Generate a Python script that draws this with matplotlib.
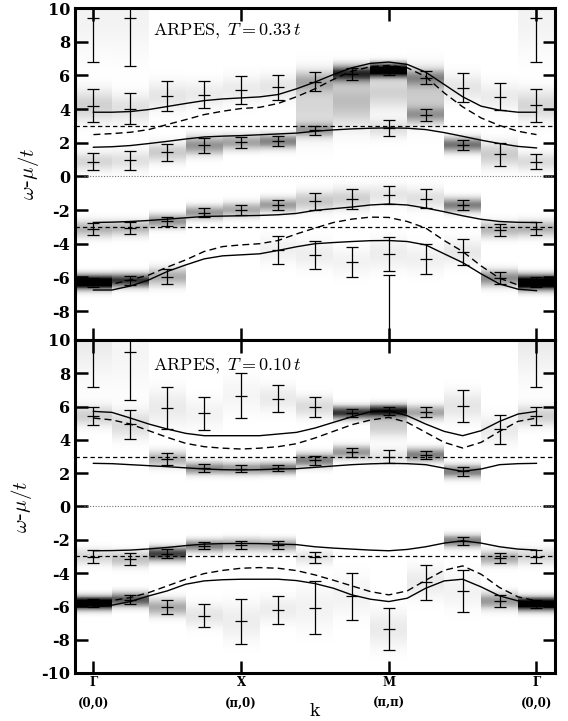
import numpy as np
import matplotlib
matplotlib.use('Agg')
import matplotlib.pyplot as plt

plt.rcParams['mathtext.fontset'] = 'cm'
plt.rcParams['axes.unicode_minus'] = False

# k path Gamma -> X -> M -> Gamma, 4 steps per segment
k_ticks = [0, 4, 8, 12]
k_labels = ['Γ\n(0,0)', 'X\n(π,0)', 'M\n(π,π)', 'Γ\n(0,0)']
k_line = np.arange(0, 12.01, 0.5)

# ---- T = 0.33t : ARPES peaks (k index, energy, half width, grey level)
top_bar_k = [0, 0, 0, 0, 0, 1, 1, 1, 1, 1, 2, 2, 2, 2, 3, 3, 3, 4, 4, 4,
             5, 5, 5, 5, 6, 6, 6, 6, 7, 7, 7, 8, 8, 8, 8, 8, 9, 9, 9, 9,
             10, 10, 10, 10, 11, 11, 11, 11, 12, 12, 12, 12, 12]
top_bar_e = [9.43, 4.2, 0.88, -3.12, -6.28, 9.43, 4.03, 0.95, -3.07, -6.18,
             4.76, 1.42, -2.66, -5.97, 4.86, 1.84, -2.15, 5.13, 2.02, -1.98,
             5.3, 2.08, -1.7, -4.36, 5.62, 2.75, -1.47, -4.66, 6.1, -1.33, -5.07,
             6.3, 2.85, -1.09, -4.6, -11.0, 5.86, 3.65, -1.32, -4.9,
             5.26, 1.88, -1.7, -4.5, 4.74, 1.3, -3.17, -6.05,
             9.43, 4.22, 0.88, -3.1, -6.3]
top_bar_w = [2.65, 1.0, 0.48, 0.38, 0.27, 2.85, 0.9, 0.55, 0.34, 0.25,
             0.9, 0.5, 0.26, 0.45, 0.8, 0.45, 0.27, 0.86, 0.33, 0.3,
             0.74, 0.3, 0.28, 0.83, 0.57, 0.27, 0.51, 0.85, 0.35, 0.6, 0.88,
             0.25, 0.48, 0.54, 1.0, 5.15, 0.4, 0.37, 0.57, 0.9,
             0.85, 0.3, 0.28, 0.77, 0.82, 0.71, 0.37, 0.37,
             2.65, 0.97, 0.47, 0.37, 0.3]
top_bar_shade = [0.05, 0.18, 0.16, 0.3, 1.3, 0.05, 0.12, 0.12, 0.28, 0.8,
                 0.1, 0.2, 0.42, 0.32, 0.08, 0.42, 0.4, 0.08, 0.36, 0.33,
                 0.1, 0.48, 0.38, 0.06, 0.28, 0.33, 0.22, 0.07, 0.8, 0.18, 0.05,
                 1.2, 0.12, 0.1, 0.07, 0.0, 0.38, 0.33, 0.12, 0.06,
                 0.1, 0.55, 0.5, 0.09, 0.08, 0.2, 0.28, 0.45,
                 0.05, 0.16, 0.14, 0.3, 1.3]
# broad grey humps without a fitted peak
top_extra_k = [6, 7, 8, 9]
top_extra_e = [4.2, 4.5, 5.0, 4.8]
top_extra_w = [1.2, 1.0, 0.7, 1.0]
top_extra_shade = [0.16, 0.26, 0.18, 0.2]

# theory bands, T = 0.33t
top_s1 = [3.81, 3.81, 3.85, 3.97, 4.15, 4.33, 4.5, 4.6, 4.66, 4.72, 4.86, 5.2, 5.6,
          6.05, 6.45, 6.71, 6.79, 6.65, 6.19, 5.46, 4.73, 4.17, 3.93, 3.81, 3.81]
top_d1 = [2.48, 2.54, 2.62, 2.78, 3.08, 3.37, 3.67, 3.87, 4.03, 4.1, 4.33, 4.73, 5.2,
          5.76, 6.25, 6.51, 6.59, 6.45, 5.92, 4.96, 4.13, 3.47, 3.02, 2.68, 2.48]
top_s2 = [1.73, 1.76, 1.83, 1.95, 2.08, 2.22, 2.34, 2.39, 2.42, 2.47, 2.52, 2.57, 2.68,
          2.76, 2.82, 2.86, 2.88, 2.86, 2.78, 2.6, 2.38, 2.15, 1.95, 1.78, 1.69]
top_s3 = [-2.74, -2.72, -2.68, -2.62, -2.54, -2.46, -2.38, -2.36, -2.34, -2.32, -2.28,
          -2.2, -2.02, -1.92, -1.82, -1.7, -1.64, -1.7, -1.88, -2.1, -2.34, -2.55,
          -2.68, -2.73, -2.74]
top_d2 = [-6.45, -6.4, -6.15, -5.86, -5.39, -4.96, -4.46, -4.17, -4.07, -4.0, -3.81,
          -3.42, -3.07, -2.74, -2.54, -2.42, -2.44, -2.68, -3.07, -3.81, -4.46, -5.32,
          -6.05, -6.45, -6.55]
top_s4 = [-6.75, -6.75, -6.51, -6.15, -5.65, -5.26, -4.9, -4.72, -4.66, -4.6, -4.4,
          -4.18, -4.0, -3.93, -3.87, -3.82, -3.81, -3.87, -4.07, -4.6, -5.12, -5.79,
          -6.39, -6.7, -6.79]

# ---- T = 0.10t
bot_bar_k = [0, 0, 0, 0, 1, 1, 1, 1, 2, 2, 2, 2, 3, 3, 3, 3, 4, 4, 4, 4,
             5, 5, 5, 5, 6, 6, 6, 6, 7, 7, 7, 8, 8, 8, 9, 9, 9,
             10, 10, 10, 10, 11, 11, 11, 12, 12, 12, 12]
bot_bar_e = [11.0, 5.45, -3.02, -5.8, 9.26, 4.93, -3.15, -5.6, 5.93, 2.85, -2.85, -6.05,
             5.6, 2.3, -2.36, -6.55, 6.66, 2.27, -2.3, -6.9, 6.48, 2.3, -2.32, -6.2,
             6.0, 2.78, -3.05, -6.07, 5.63, 3.25, -5.4, 5.73, 3.0, -7.37,
             5.65, 3.1, -4.55, 6.05, 2.1, -2.08, -5.07, 4.63, -3.1, -5.67,
             11.0, 5.45, -3.02, -5.85]
bot_bar_w = [3.8, 0.55, 0.38, 0.23, 2.86, 0.88, 0.37, 0.28, 1.27, 0.36, 0.27, 0.42,
             1.0, 0.23, 0.2, 0.68, 1.35, 0.23, 0.25, 1.33, 0.83, 0.2, 0.23, 0.83,
             0.6, 0.27, 0.33, 1.6, 0.23, 0.26, 1.43, 0.22, 0.38, 1.26,
             0.3, 0.25, 1.05, 0.95, 0.25, 0.22, 1.24, 0.88, 0.3, 0.36,
             3.8, 0.55, 0.38, 0.24]
bot_bar_shade = [0.1, 0.18, 0.16, 1.2, 0.04, 0.14, 0.24, 0.65, 0.08, 0.3, 0.75, 0.33,
                 0.05, 0.45, 0.5, 0.1, 0.04, 0.4, 0.35, 0.07, 0.08, 0.5, 0.35, 0.07,
                 0.14, 0.5, 0.1, 0.05, 0.8, 0.4, 0.05, 0.9, 0.1, 0.08,
                 0.35, 0.5, 0.08, 0.1, 0.5, 0.5, 0.05, 0.08, 0.33, 0.4,
                 0.1, 0.18, 0.16, 1.2]
bot_extra_k = [8]
bot_extra_e = [4.9]
bot_extra_w = [0.5]
bot_extra_shade = [0.2]

bot_s1 = [5.71, 5.65, 5.31, 4.95, 4.65, 4.39, 4.25, 4.25, 4.25, 4.25, 4.35, 4.45, 4.71,
          5.05, 5.39, 5.69, 5.75, 5.45, 4.95, 4.51, 4.25, 4.55, 5.11, 5.55, 5.71]
bot_d1 = [5.31, 5.2, 4.95, 4.55, 4.15, 3.79, 3.59, 3.5, 3.45, 3.5, 3.59, 3.77, 4.11,
          4.51, 4.91, 5.19, 5.35, 5.05, 4.45, 3.85, 3.51, 3.85, 4.51, 5.11, 5.31]
bot_s2 = [2.59, 2.57, 2.51, 2.45, 2.39, 2.32, 2.25, 2.21, 2.19, 2.21, 2.25, 2.27, 2.35,
          2.43, 2.51, 2.56, 2.59, 2.57, 2.51, 2.3, 2.11, 2.25, 2.51, 2.57, 2.59]
bot_s3 = [-2.66, -2.65, -2.62, -2.55, -2.46, -2.35, -2.26, -2.23, -2.22, -2.23, -2.26,
          -2.29, -2.42, -2.5, -2.56, -2.62, -2.66, -2.58, -2.42, -2.2, -2.06, -2.2,
          -2.42, -2.56, -2.62]
bot_d2 = [-5.77, -5.65, -5.47, -5.17, -4.77, -4.37, -4.03, -3.84, -3.71, -3.67, -3.71,
          -3.85, -4.11, -4.43, -4.77, -5.11, -5.31, -5.07, -4.43, -3.83, -3.57, -4.07,
          -4.87, -5.43, -5.67]
bot_s4 = [-6.03, -5.93, -5.71, -5.37, -5.07, -4.67, -4.47, -4.4, -4.37, -4.37, -4.37,
          -4.45, -4.63, -4.91, -5.31, -5.57, -5.71, -5.51, -4.91, -4.47, -4.37, -4.83,
          -5.37, -5.67, -5.83]

serif = 'DejaVu Serif'


def draw_panel(ax, ylim, yticks, bar_k, bar_e, bar_w, bar_shade,
               ex_k, ex_e, ex_w, ex_shade, solids, dashes, label, label_y):
    # grey-scale spectral weight, one column per k point
    y = np.linspace(ylim[0], ylim[1], 700)
    img = np.zeros((len(y), 13))
    sig = 0.5 * np.array(bar_w) + 0.15
    for k, e, s, a in zip(bar_k, bar_e, sig, bar_shade):
        img[:, k] += a * np.exp(-0.5 * ((y - e) / s) ** 2)
    for k, e, s, a in zip(ex_k, ex_e, ex_w, ex_shade):
        img[:, k] += a * np.exp(-0.5 * ((y - e) / s) ** 2)
    ax.pcolormesh(np.arange(13), y, np.clip(img, 0, 1), cmap='gray_r',
                  vmin=0, vmax=1, shading='nearest', zorder=0, rasterized=True)

    ax.axhline(3, color='k', lw=0.9, ls=(0, (3.5, 2.5)), zorder=2)
    ax.axhline(-3, color='k', lw=0.9, ls=(0, (3.5, 2.5)), zorder=2)
    ax.plot([-0.25, 12.5], [0, 0], color='0.45', lw=0.8, ls=(0, (1, 1.5)), zorder=2)

    for c in solids:
        ax.plot(k_line, c, color='k', lw=1.0, zorder=3)
    for c in dashes:
        ax.plot(k_line, c, color='k', lw=1.0, ls=(0, (5, 3)), zorder=3)

    ax.errorbar(bar_k, bar_e, yerr=bar_w, fmt='none', ecolor='k',
                elinewidth=0.9, capsize=4, capthick=0.9, zorder=4)
    ax.plot(bar_k, bar_e, ls='none', marker='_', ms=8, mew=0.9, color='k', zorder=4)

    ax.text(1.62, label_y, label, fontsize=13, zorder=5)

    ax.set_xlim(-0.5, 12.5)
    ax.set_ylim(*ylim)
    ax.set_yticks(yticks)
    ax.set_xticks(k_ticks)
    ax.tick_params(direction='in', top=True, right=True, length=9, width=1.8)
    for lbl in ax.get_yticklabels():
        lbl.set_fontfamily(serif)
        lbl.set_fontweight('bold')
        lbl.set_fontsize(11.5)
    for sp in ax.spines.values():
        sp.set_linewidth(2.2)
    ax.set_ylabel(r'$\omega$-$\mu/t$', fontsize=15, labelpad=5)


fig = plt.figure(figsize=(5.68, 7.21), dpi=100)
ax1 = fig.add_axes([0.132, 0.5284, 0.845, 0.4605])
ax2 = fig.add_axes([0.132, 0.0666, 0.845, 0.4619])

draw_panel(ax1, (-9.72, 10), np.arange(-8, 11, 2),
           top_bar_k, top_bar_e, top_bar_w, top_bar_shade,
           top_extra_k, top_extra_e, top_extra_w, top_extra_shade,
           [top_s1, top_s2, top_s3, top_s4], [top_d1, top_d2],
           r'$\mathrm{ARPES},\ T = 0.33\,t$', 8.35)
ax1.set_xticklabels([])

draw_panel(ax2, (-10, 10), np.arange(-10, 11, 2),
           bot_bar_k, bot_bar_e, bot_bar_w, bot_bar_shade,
           bot_extra_k, bot_extra_e, bot_extra_w, bot_extra_shade,
           [bot_s1, bot_s2, bot_s3, bot_s4], [bot_d1, bot_d2],
           r'$\mathrm{ARPES},\ T = 0.10\,t$', 8.15)
ax2.set_xticklabels(k_labels)
for lbl in ax2.get_xticklabels():
    lbl.set_fontfamily(serif)
    lbl.set_fontweight('bold')
    lbl.set_fontsize(8.5)
    lbl.set_linespacing(1.8)
ax2.tick_params(axis='x', pad=2)
fig.text(315 / 568, 1 - 711 / 721, 'k', family=serif, fontsize=12,
         ha='center', va='center')

fig.savefig('out.png', dpi=100)
